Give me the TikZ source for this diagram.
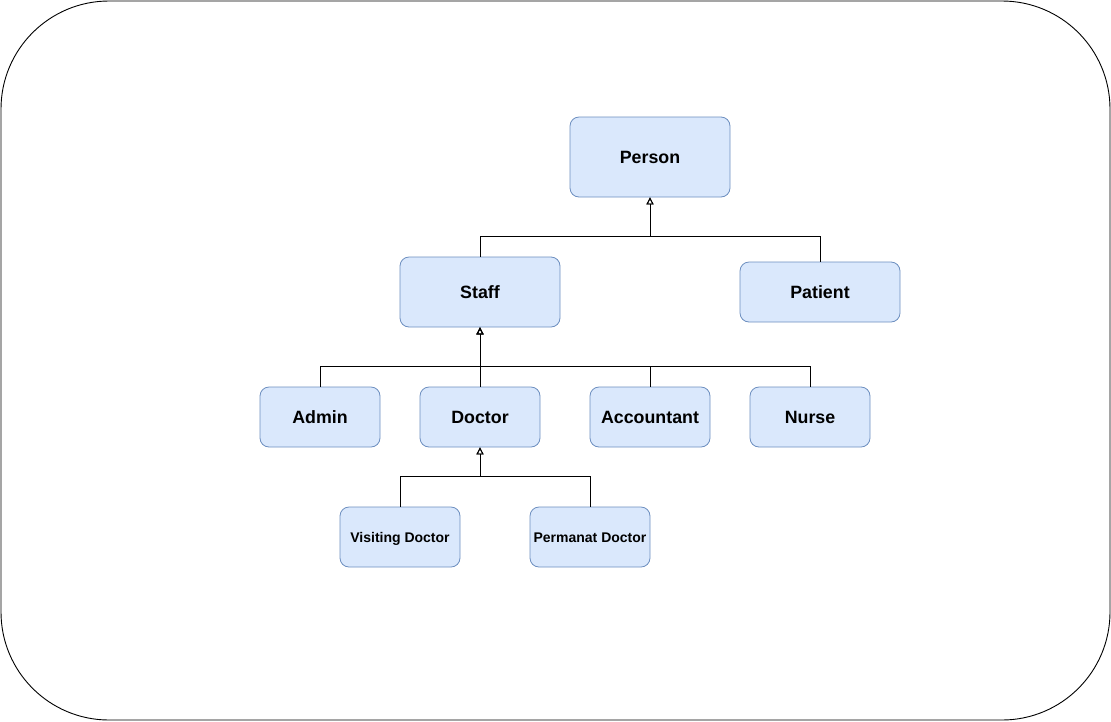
\documentclass[tikz,border=0pt]{standalone}
\usepackage{fontspec}
\setmainfont{Liberation Sans}
\usetikzlibrary{arrows.meta}
\definecolor{boxfill}{HTML}{DAE8FC}
\definecolor{boxline}{HTML}{6C8EBF}
\begin{document}
\begin{tikzpicture}[x=1pt,y=-1pt,
  cls/.style={draw=boxline, fill=boxfill, rounded corners=9pt, line width=0.8pt,
    minimum width=#1, inner sep=0pt, text height=12.7pt, text depth=0pt,
    font=\fontsize{17.8}{20}\selectfont\bfseries},
  cls/.default=160pt,
  small/.style={font=\fontsize{14}{16}\selectfont\bfseries, text height=10pt},
  gen/.style={draw=black, line width=0.9pt, -{Triangle[open, length=7pt, width=7pt]}}]
\useasboundingbox (0,0) rectangle (1111,721);
\draw[line width=0.9pt, rounded corners=108pt] (1,1) rectangle (1110,720);
\node[cls, minimum height=80pt] (person) at (650,157) {Person};
\node[cls, minimum height=70pt] (staff) at (480,292) {Staff};
\node[cls, minimum height=60pt] (patient) at (820,292) {Patient};
\node[cls=120pt, minimum height=60pt] (admin) at (320,417) {Admin};
\node[cls=120pt, minimum height=60pt] (doctor) at (480,417) {Doctor};
\node[cls=120pt, minimum height=60pt] (accountant) at (650,417) {Accountant};
\node[cls=120pt, minimum height=60pt] (nurse) at (810,417) {Nurse};
\node[cls=120pt, minimum height=60pt, small] (visiting) at (400,537) {Visiting Doctor};
\node[cls=120pt, minimum height=60pt, small] (permanent) at (590,537) {Permanat Doctor};
\draw[gen] (staff.north) -- ++(0,-20) -| (person.south);
\draw[gen] (patient.north) -- ++(0,-25) -| (person.south);
\draw[gen] (admin.north) -- ++(0,-20) -| (staff.south);
\draw[gen] (doctor.north) -- (staff.south);
\draw[gen] (accountant.north) -- ++(0,-20) -| (staff.south);
\draw[gen] (nurse.north) -- ++(0,-20) -| (staff.south);
\draw[gen] (visiting.north) -- ++(0,-30) -| (doctor.south);
\draw[gen] (permanent.north) -- ++(0,-30) -| (doctor.south);
\end{tikzpicture}
\end{document}
